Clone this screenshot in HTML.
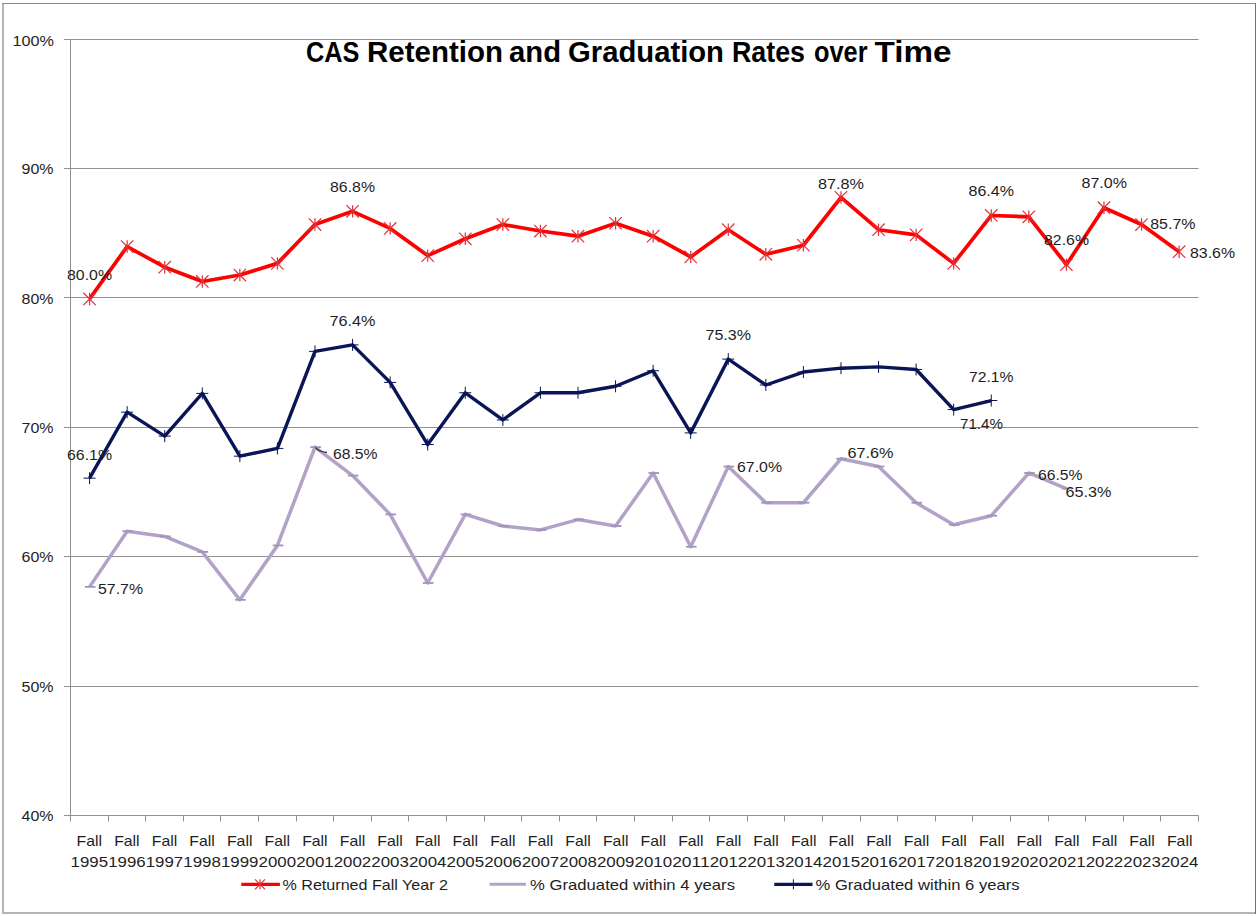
<!DOCTYPE html><html><head><meta charset="utf-8"><style>html,body{margin:0;padding:0;background:#fff;width:1256px;height:916px;overflow:hidden;}svg{display:block;}text{font-family:"Liberation Sans",sans-serif;}</style></head><body>
<svg width="1256" height="916" viewBox="0 0 1256 916">
<rect x="0" y="0" width="1256" height="916" fill="#fff"/>
<rect x="2" y="3" width="2" height="911" fill="#B4B4B4"/>
<rect x="2" y="912" width="1254" height="2" fill="#B4B4B4"/>
<rect x="2" y="3" width="1254" height="1" fill="#8C8C8C"/>
<rect x="1255" y="3" width="1" height="911" fill="#727272"/>
<g stroke="#909090" stroke-width="1">
<line x1="64" y1="39.50" x2="1198.5" y2="39.50"/>
<line x1="64" y1="168.50" x2="1198.5" y2="168.50"/>
<line x1="64" y1="297.50" x2="1198.5" y2="297.50"/>
<line x1="64" y1="427.50" x2="1198.5" y2="427.50"/>
<line x1="64" y1="556.50" x2="1198.5" y2="556.50"/>
<line x1="64" y1="686.50" x2="1198.5" y2="686.50"/>
<line x1="64" y1="815.50" x2="1198.5" y2="815.50"/>
<line x1="70.5" y1="39" x2="70.5" y2="816"/>
<line x1="70.50" y1="815.5" x2="70.50" y2="821.5"/>
<line x1="108.50" y1="815.5" x2="108.50" y2="821.5"/>
<line x1="145.50" y1="815.5" x2="145.50" y2="821.5"/>
<line x1="183.50" y1="815.5" x2="183.50" y2="821.5"/>
<line x1="220.50" y1="815.5" x2="220.50" y2="821.5"/>
<line x1="258.50" y1="815.5" x2="258.50" y2="821.5"/>
<line x1="296.50" y1="815.5" x2="296.50" y2="821.5"/>
<line x1="333.50" y1="815.5" x2="333.50" y2="821.5"/>
<line x1="371.50" y1="815.5" x2="371.50" y2="821.5"/>
<line x1="408.50" y1="815.5" x2="408.50" y2="821.5"/>
<line x1="446.50" y1="815.5" x2="446.50" y2="821.5"/>
<line x1="484.50" y1="815.5" x2="484.50" y2="821.5"/>
<line x1="521.50" y1="815.5" x2="521.50" y2="821.5"/>
<line x1="559.50" y1="815.5" x2="559.50" y2="821.5"/>
<line x1="596.50" y1="815.5" x2="596.50" y2="821.5"/>
<line x1="634.50" y1="815.5" x2="634.50" y2="821.5"/>
<line x1="672.50" y1="815.5" x2="672.50" y2="821.5"/>
<line x1="709.50" y1="815.5" x2="709.50" y2="821.5"/>
<line x1="747.50" y1="815.5" x2="747.50" y2="821.5"/>
<line x1="784.50" y1="815.5" x2="784.50" y2="821.5"/>
<line x1="822.50" y1="815.5" x2="822.50" y2="821.5"/>
<line x1="860.50" y1="815.5" x2="860.50" y2="821.5"/>
<line x1="897.50" y1="815.5" x2="897.50" y2="821.5"/>
<line x1="935.50" y1="815.5" x2="935.50" y2="821.5"/>
<line x1="972.50" y1="815.5" x2="972.50" y2="821.5"/>
<line x1="1010.50" y1="815.5" x2="1010.50" y2="821.5"/>
<line x1="1048.50" y1="815.5" x2="1048.50" y2="821.5"/>
<line x1="1085.50" y1="815.5" x2="1085.50" y2="821.5"/>
<line x1="1123.50" y1="815.5" x2="1123.50" y2="821.5"/>
<line x1="1160.50" y1="815.5" x2="1160.50" y2="821.5"/>
<line x1="1198.50" y1="815.5" x2="1198.50" y2="821.5"/>
</g>
<g font-size="15" fill="#1E1E1E" stroke="#1E1E1E" stroke-width="0.0">
<text x="12.50" y="45.90" textLength="41.5" lengthAdjust="spacingAndGlyphs">100%</text>
<text x="21.60" y="174.10" textLength="32" lengthAdjust="spacingAndGlyphs">90%</text>
<text x="21.60" y="303.50" textLength="32" lengthAdjust="spacingAndGlyphs">80%</text>
<text x="21.60" y="432.90" textLength="32" lengthAdjust="spacingAndGlyphs">70%</text>
<text x="21.60" y="562.30" textLength="32" lengthAdjust="spacingAndGlyphs">60%</text>
<text x="21.60" y="691.70" textLength="32" lengthAdjust="spacingAndGlyphs">50%</text>
<text x="21.60" y="821.00" textLength="32" lengthAdjust="spacingAndGlyphs">40%</text>
<text x="89.30" y="846.00" text-anchor="middle" textLength="25.5" lengthAdjust="spacingAndGlyphs">Fall</text>
<text x="89.30" y="867.00" text-anchor="middle" textLength="37.5" lengthAdjust="spacingAndGlyphs">1995</text>
<text x="126.90" y="846.00" text-anchor="middle" textLength="25.5" lengthAdjust="spacingAndGlyphs">Fall</text>
<text x="126.90" y="867.00" text-anchor="middle" textLength="37.5" lengthAdjust="spacingAndGlyphs">1996</text>
<text x="164.50" y="846.00" text-anchor="middle" textLength="25.5" lengthAdjust="spacingAndGlyphs">Fall</text>
<text x="164.50" y="867.00" text-anchor="middle" textLength="37.5" lengthAdjust="spacingAndGlyphs">1997</text>
<text x="202.10" y="846.00" text-anchor="middle" textLength="25.5" lengthAdjust="spacingAndGlyphs">Fall</text>
<text x="202.10" y="867.00" text-anchor="middle" textLength="37.5" lengthAdjust="spacingAndGlyphs">1998</text>
<text x="239.70" y="846.00" text-anchor="middle" textLength="25.5" lengthAdjust="spacingAndGlyphs">Fall</text>
<text x="239.70" y="867.00" text-anchor="middle" textLength="37.5" lengthAdjust="spacingAndGlyphs">1999</text>
<text x="277.30" y="846.00" text-anchor="middle" textLength="25.5" lengthAdjust="spacingAndGlyphs">Fall</text>
<text x="277.30" y="867.00" text-anchor="middle" textLength="37.5" lengthAdjust="spacingAndGlyphs">2000</text>
<text x="314.90" y="846.00" text-anchor="middle" textLength="25.5" lengthAdjust="spacingAndGlyphs">Fall</text>
<text x="314.90" y="867.00" text-anchor="middle" textLength="37.5" lengthAdjust="spacingAndGlyphs">2001</text>
<text x="352.50" y="846.00" text-anchor="middle" textLength="25.5" lengthAdjust="spacingAndGlyphs">Fall</text>
<text x="352.50" y="867.00" text-anchor="middle" textLength="37.5" lengthAdjust="spacingAndGlyphs">2002</text>
<text x="390.10" y="846.00" text-anchor="middle" textLength="25.5" lengthAdjust="spacingAndGlyphs">Fall</text>
<text x="390.10" y="867.00" text-anchor="middle" textLength="37.5" lengthAdjust="spacingAndGlyphs">2003</text>
<text x="427.70" y="846.00" text-anchor="middle" textLength="25.5" lengthAdjust="spacingAndGlyphs">Fall</text>
<text x="427.70" y="867.00" text-anchor="middle" textLength="37.5" lengthAdjust="spacingAndGlyphs">2004</text>
<text x="465.30" y="846.00" text-anchor="middle" textLength="25.5" lengthAdjust="spacingAndGlyphs">Fall</text>
<text x="465.30" y="867.00" text-anchor="middle" textLength="37.5" lengthAdjust="spacingAndGlyphs">2005</text>
<text x="502.90" y="846.00" text-anchor="middle" textLength="25.5" lengthAdjust="spacingAndGlyphs">Fall</text>
<text x="502.90" y="867.00" text-anchor="middle" textLength="37.5" lengthAdjust="spacingAndGlyphs">2006</text>
<text x="540.50" y="846.00" text-anchor="middle" textLength="25.5" lengthAdjust="spacingAndGlyphs">Fall</text>
<text x="540.50" y="867.00" text-anchor="middle" textLength="37.5" lengthAdjust="spacingAndGlyphs">2007</text>
<text x="578.10" y="846.00" text-anchor="middle" textLength="25.5" lengthAdjust="spacingAndGlyphs">Fall</text>
<text x="578.10" y="867.00" text-anchor="middle" textLength="37.5" lengthAdjust="spacingAndGlyphs">2008</text>
<text x="615.70" y="846.00" text-anchor="middle" textLength="25.5" lengthAdjust="spacingAndGlyphs">Fall</text>
<text x="615.70" y="867.00" text-anchor="middle" textLength="37.5" lengthAdjust="spacingAndGlyphs">2009</text>
<text x="653.30" y="846.00" text-anchor="middle" textLength="25.5" lengthAdjust="spacingAndGlyphs">Fall</text>
<text x="653.30" y="867.00" text-anchor="middle" textLength="37.5" lengthAdjust="spacingAndGlyphs">2010</text>
<text x="690.90" y="846.00" text-anchor="middle" textLength="25.5" lengthAdjust="spacingAndGlyphs">Fall</text>
<text x="690.90" y="867.00" text-anchor="middle" textLength="37.5" lengthAdjust="spacingAndGlyphs">2011</text>
<text x="728.50" y="846.00" text-anchor="middle" textLength="25.5" lengthAdjust="spacingAndGlyphs">Fall</text>
<text x="728.50" y="867.00" text-anchor="middle" textLength="37.5" lengthAdjust="spacingAndGlyphs">2012</text>
<text x="766.10" y="846.00" text-anchor="middle" textLength="25.5" lengthAdjust="spacingAndGlyphs">Fall</text>
<text x="766.10" y="867.00" text-anchor="middle" textLength="37.5" lengthAdjust="spacingAndGlyphs">2013</text>
<text x="803.70" y="846.00" text-anchor="middle" textLength="25.5" lengthAdjust="spacingAndGlyphs">Fall</text>
<text x="803.70" y="867.00" text-anchor="middle" textLength="37.5" lengthAdjust="spacingAndGlyphs">2014</text>
<text x="841.30" y="846.00" text-anchor="middle" textLength="25.5" lengthAdjust="spacingAndGlyphs">Fall</text>
<text x="841.30" y="867.00" text-anchor="middle" textLength="37.5" lengthAdjust="spacingAndGlyphs">2015</text>
<text x="878.90" y="846.00" text-anchor="middle" textLength="25.5" lengthAdjust="spacingAndGlyphs">Fall</text>
<text x="878.90" y="867.00" text-anchor="middle" textLength="37.5" lengthAdjust="spacingAndGlyphs">2016</text>
<text x="916.50" y="846.00" text-anchor="middle" textLength="25.5" lengthAdjust="spacingAndGlyphs">Fall</text>
<text x="916.50" y="867.00" text-anchor="middle" textLength="37.5" lengthAdjust="spacingAndGlyphs">2017</text>
<text x="954.10" y="846.00" text-anchor="middle" textLength="25.5" lengthAdjust="spacingAndGlyphs">Fall</text>
<text x="954.10" y="867.00" text-anchor="middle" textLength="37.5" lengthAdjust="spacingAndGlyphs">2018</text>
<text x="991.70" y="846.00" text-anchor="middle" textLength="25.5" lengthAdjust="spacingAndGlyphs">Fall</text>
<text x="991.70" y="867.00" text-anchor="middle" textLength="37.5" lengthAdjust="spacingAndGlyphs">2019</text>
<text x="1029.30" y="846.00" text-anchor="middle" textLength="25.5" lengthAdjust="spacingAndGlyphs">Fall</text>
<text x="1029.30" y="867.00" text-anchor="middle" textLength="37.5" lengthAdjust="spacingAndGlyphs">2020</text>
<text x="1066.90" y="846.00" text-anchor="middle" textLength="25.5" lengthAdjust="spacingAndGlyphs">Fall</text>
<text x="1066.90" y="867.00" text-anchor="middle" textLength="37.5" lengthAdjust="spacingAndGlyphs">2021</text>
<text x="1104.50" y="846.00" text-anchor="middle" textLength="25.5" lengthAdjust="spacingAndGlyphs">Fall</text>
<text x="1104.50" y="867.00" text-anchor="middle" textLength="37.5" lengthAdjust="spacingAndGlyphs">2022</text>
<text x="1142.10" y="846.00" text-anchor="middle" textLength="25.5" lengthAdjust="spacingAndGlyphs">Fall</text>
<text x="1142.10" y="867.00" text-anchor="middle" textLength="37.5" lengthAdjust="spacingAndGlyphs">2023</text>
<text x="1179.70" y="846.00" text-anchor="middle" textLength="25.5" lengthAdjust="spacingAndGlyphs">Fall</text>
<text x="1179.70" y="867.00" text-anchor="middle" textLength="37.5" lengthAdjust="spacingAndGlyphs">2024</text>
</g>
<text x="306.00" y="61.9" font-size="28.6" font-weight="bold" fill="#000" textLength="53.50" lengthAdjust="spacingAndGlyphs">CAS</text>
<text x="367.00" y="61.9" font-size="28.6" font-weight="bold" fill="#000" textLength="136.00" lengthAdjust="spacingAndGlyphs">Retention</text>
<text x="509.00" y="61.9" font-size="28.6" font-weight="bold" fill="#000" textLength="52.00" lengthAdjust="spacingAndGlyphs">and</text>
<text x="568.00" y="61.9" font-size="28.6" font-weight="bold" fill="#000" textLength="156.00" lengthAdjust="spacingAndGlyphs">Graduation</text>
<text x="732.00" y="61.9" font-size="28.6" font-weight="bold" fill="#000" textLength="73.00" lengthAdjust="spacingAndGlyphs">Rates</text>
<text x="814.00" y="61.9" font-size="28.6" font-weight="bold" fill="#000" textLength="53.50" lengthAdjust="spacingAndGlyphs">over</text>
<text x="874.50" y="61.9" font-size="28.6" font-weight="bold" fill="#000" textLength="77.00" lengthAdjust="spacingAndGlyphs">Time</text>
<polyline points="89.58,586.86 127.15,531.22 164.72,536.40 202.29,551.92 239.86,599.80 277.43,545.45 315.00,447.11 352.57,475.58 390.14,514.40 427.71,582.98 465.28,514.40 502.85,526.04 540.42,529.93 577.99,519.57 615.56,526.04 653.13,472.99 690.70,546.75 728.27,466.52 765.84,502.75 803.41,502.75 840.98,458.76 878.55,466.52 916.12,502.75 953.69,524.75 991.26,515.69 1028.83,472.99 1066.40,488.52" fill="none" stroke="#B3A2C7" stroke-width="3.5" stroke-linejoin="round"/>
<path d="M84.88 586.86L95.48 586.86" stroke="#9F94BA" stroke-width="1.8" fill="none"/>
<path d="M122.45 531.22L133.05 531.22" stroke="#9F94BA" stroke-width="1.8" fill="none"/>
<path d="M160.02 536.40L170.62 536.40" stroke="#9F94BA" stroke-width="1.8" fill="none"/>
<path d="M197.59 551.92L208.19 551.92" stroke="#9F94BA" stroke-width="1.8" fill="none"/>
<path d="M235.16 599.80L245.76 599.80" stroke="#9F94BA" stroke-width="1.8" fill="none"/>
<path d="M272.73 545.45L283.33 545.45" stroke="#9F94BA" stroke-width="1.8" fill="none"/>
<path d="M310.30 447.11L320.90 447.11" stroke="#9F94BA" stroke-width="1.8" fill="none"/>
<path d="M347.87 475.58L358.47 475.58" stroke="#9F94BA" stroke-width="1.8" fill="none"/>
<path d="M385.44 514.40L396.04 514.40" stroke="#9F94BA" stroke-width="1.8" fill="none"/>
<path d="M423.01 582.98L433.61 582.98" stroke="#9F94BA" stroke-width="1.8" fill="none"/>
<path d="M460.58 514.40L471.18 514.40" stroke="#9F94BA" stroke-width="1.8" fill="none"/>
<path d="M498.15 526.04L508.75 526.04" stroke="#9F94BA" stroke-width="1.8" fill="none"/>
<path d="M535.72 529.93L546.32 529.93" stroke="#9F94BA" stroke-width="1.8" fill="none"/>
<path d="M573.29 519.57L583.89 519.57" stroke="#9F94BA" stroke-width="1.8" fill="none"/>
<path d="M610.86 526.04L621.46 526.04" stroke="#9F94BA" stroke-width="1.8" fill="none"/>
<path d="M648.43 472.99L659.03 472.99" stroke="#9F94BA" stroke-width="1.8" fill="none"/>
<path d="M686.00 546.75L696.60 546.75" stroke="#9F94BA" stroke-width="1.8" fill="none"/>
<path d="M723.57 466.52L734.17 466.52" stroke="#9F94BA" stroke-width="1.8" fill="none"/>
<path d="M761.14 502.75L771.74 502.75" stroke="#9F94BA" stroke-width="1.8" fill="none"/>
<path d="M798.71 502.75L809.31 502.75" stroke="#9F94BA" stroke-width="1.8" fill="none"/>
<path d="M836.28 458.76L846.88 458.76" stroke="#9F94BA" stroke-width="1.8" fill="none"/>
<path d="M873.85 466.52L884.45 466.52" stroke="#9F94BA" stroke-width="1.8" fill="none"/>
<path d="M911.42 502.75L922.02 502.75" stroke="#9F94BA" stroke-width="1.8" fill="none"/>
<path d="M948.99 524.75L959.59 524.75" stroke="#9F94BA" stroke-width="1.8" fill="none"/>
<path d="M986.56 515.69L997.16 515.69" stroke="#9F94BA" stroke-width="1.8" fill="none"/>
<path d="M1024.13 472.99L1034.73 472.99" stroke="#9F94BA" stroke-width="1.8" fill="none"/>
<path d="M1061.70 488.52L1072.30 488.52" stroke="#9F94BA" stroke-width="1.8" fill="none"/>
<polyline points="89.58,478.17 127.15,412.17 164.72,436.11 202.29,393.41 239.86,456.17 277.43,448.40 315.00,351.35 352.57,344.88 390.14,382.41 427.71,444.52 465.28,392.76 502.85,419.94 540.42,392.76 577.99,392.76 615.56,386.29 653.13,370.76 690.70,432.88 728.27,359.12 765.84,385.00 803.41,372.06 840.98,368.18 878.55,366.88 916.12,369.47 953.69,409.58 991.26,400.53" fill="none" stroke="#0A1556" stroke-width="3.4" stroke-linejoin="round"/>
<path d="M83.58 478.17L95.58 478.17M89.58 472.17L89.58 484.17" stroke="#0A1556" stroke-width="1" fill="none"/>
<path d="M121.15 412.17L133.15 412.17M127.15 406.17L127.15 418.17" stroke="#0A1556" stroke-width="1" fill="none"/>
<path d="M158.72 436.11L170.72 436.11M164.72 430.11L164.72 442.11" stroke="#0A1556" stroke-width="1" fill="none"/>
<path d="M196.29 393.41L208.29 393.41M202.29 387.41L202.29 399.41" stroke="#0A1556" stroke-width="1" fill="none"/>
<path d="M233.86 456.17L245.86 456.17M239.86 450.17L239.86 462.17" stroke="#0A1556" stroke-width="1" fill="none"/>
<path d="M271.43 448.40L283.43 448.40M277.43 442.40L277.43 454.40" stroke="#0A1556" stroke-width="1" fill="none"/>
<path d="M309.00 351.35L321.00 351.35M315.00 345.35L315.00 357.35" stroke="#0A1556" stroke-width="1" fill="none"/>
<path d="M346.57 344.88L358.57 344.88M352.57 338.88L352.57 350.88" stroke="#0A1556" stroke-width="1" fill="none"/>
<path d="M384.14 382.41L396.14 382.41M390.14 376.41L390.14 388.41" stroke="#0A1556" stroke-width="1" fill="none"/>
<path d="M421.71 444.52L433.71 444.52M427.71 438.52L427.71 450.52" stroke="#0A1556" stroke-width="1" fill="none"/>
<path d="M459.28 392.76L471.28 392.76M465.28 386.76L465.28 398.76" stroke="#0A1556" stroke-width="1" fill="none"/>
<path d="M496.85 419.94L508.85 419.94M502.85 413.94L502.85 425.94" stroke="#0A1556" stroke-width="1" fill="none"/>
<path d="M534.42 392.76L546.42 392.76M540.42 386.76L540.42 398.76" stroke="#0A1556" stroke-width="1" fill="none"/>
<path d="M571.99 392.76L583.99 392.76M577.99 386.76L577.99 398.76" stroke="#0A1556" stroke-width="1" fill="none"/>
<path d="M609.56 386.29L621.56 386.29M615.56 380.29L615.56 392.29" stroke="#0A1556" stroke-width="1" fill="none"/>
<path d="M647.13 370.76L659.13 370.76M653.13 364.76L653.13 376.76" stroke="#0A1556" stroke-width="1" fill="none"/>
<path d="M684.70 432.88L696.70 432.88M690.70 426.88L690.70 438.88" stroke="#0A1556" stroke-width="1" fill="none"/>
<path d="M722.27 359.12L734.27 359.12M728.27 353.12L728.27 365.12" stroke="#0A1556" stroke-width="1" fill="none"/>
<path d="M759.84 385.00L771.84 385.00M765.84 379.00L765.84 391.00" stroke="#0A1556" stroke-width="1" fill="none"/>
<path d="M797.41 372.06L809.41 372.06M803.41 366.06L803.41 378.06" stroke="#0A1556" stroke-width="1" fill="none"/>
<path d="M834.98 368.18L846.98 368.18M840.98 362.18L840.98 374.18" stroke="#0A1556" stroke-width="1" fill="none"/>
<path d="M872.55 366.88L884.55 366.88M878.55 360.88L878.55 372.88" stroke="#0A1556" stroke-width="1" fill="none"/>
<path d="M910.12 369.47L922.12 369.47M916.12 363.47L916.12 375.47" stroke="#0A1556" stroke-width="1" fill="none"/>
<path d="M947.69 409.58L959.69 409.58M953.69 403.58L953.69 415.58" stroke="#0A1556" stroke-width="1" fill="none"/>
<path d="M985.26 400.53L997.26 400.53M991.26 394.53L991.26 406.53" stroke="#0A1556" stroke-width="1" fill="none"/>
<polyline points="89.58,298.95 127.15,246.54 164.72,267.24 202.29,281.48 239.86,275.01 277.43,263.36 315.00,224.54 352.57,211.34 390.14,228.42 427.71,255.60 465.28,238.78 502.85,224.54 540.42,231.01 577.99,236.19 615.56,223.25 653.13,236.19 690.70,256.89 728.27,229.72 765.84,254.30 803.41,245.25 840.98,197.37 878.55,229.72 916.12,234.89 953.69,263.36 991.26,215.48 1028.83,216.78 1066.40,264.66 1103.97,207.72 1141.54,224.54 1179.11,251.72" fill="none" stroke="#FF0000" stroke-width="3.7" stroke-linejoin="round"/>
<path d="M83.38 292.75L95.78 305.15M83.38 305.15L95.78 292.75M89.58 292.75L89.58 305.15" stroke="#E03038" stroke-width="1.2" fill="none"/>
<path d="M120.95 240.34L133.35 252.74M120.95 252.74L133.35 240.34M127.15 240.34L127.15 252.74" stroke="#E03038" stroke-width="1.2" fill="none"/>
<path d="M158.52 261.04L170.92 273.44M158.52 273.44L170.92 261.04M164.72 261.04L164.72 273.44" stroke="#E03038" stroke-width="1.2" fill="none"/>
<path d="M196.09 275.28L208.49 287.68M196.09 287.68L208.49 275.28M202.29 275.28L202.29 287.68" stroke="#E03038" stroke-width="1.2" fill="none"/>
<path d="M233.66 268.81L246.06 281.21M233.66 281.21L246.06 268.81M239.86 268.81L239.86 281.21" stroke="#E03038" stroke-width="1.2" fill="none"/>
<path d="M271.23 257.16L283.63 269.56M271.23 269.56L283.63 257.16M277.43 257.16L277.43 269.56" stroke="#E03038" stroke-width="1.2" fill="none"/>
<path d="M308.80 218.34L321.20 230.74M308.80 230.74L321.20 218.34M315.00 218.34L315.00 230.74" stroke="#E03038" stroke-width="1.2" fill="none"/>
<path d="M346.37 205.14L358.77 217.54M346.37 217.54L358.77 205.14M352.57 205.14L352.57 217.54" stroke="#E03038" stroke-width="1.2" fill="none"/>
<path d="M383.94 222.22L396.34 234.62M383.94 234.62L396.34 222.22M390.14 222.22L390.14 234.62" stroke="#E03038" stroke-width="1.2" fill="none"/>
<path d="M421.51 249.40L433.91 261.80M421.51 261.80L433.91 249.40M427.71 249.40L427.71 261.80" stroke="#E03038" stroke-width="1.2" fill="none"/>
<path d="M459.08 232.58L471.48 244.98M459.08 244.98L471.48 232.58M465.28 232.58L465.28 244.98" stroke="#E03038" stroke-width="1.2" fill="none"/>
<path d="M496.65 218.34L509.05 230.74M496.65 230.74L509.05 218.34M502.85 218.34L502.85 230.74" stroke="#E03038" stroke-width="1.2" fill="none"/>
<path d="M534.22 224.81L546.62 237.21M534.22 237.21L546.62 224.81M540.42 224.81L540.42 237.21" stroke="#E03038" stroke-width="1.2" fill="none"/>
<path d="M571.79 229.99L584.19 242.39M571.79 242.39L584.19 229.99M577.99 229.99L577.99 242.39" stroke="#E03038" stroke-width="1.2" fill="none"/>
<path d="M609.36 217.05L621.76 229.45M609.36 229.45L621.76 217.05M615.56 217.05L615.56 229.45" stroke="#E03038" stroke-width="1.2" fill="none"/>
<path d="M646.93 229.99L659.33 242.39M646.93 242.39L659.33 229.99M653.13 229.99L653.13 242.39" stroke="#E03038" stroke-width="1.2" fill="none"/>
<path d="M684.50 250.69L696.90 263.09M684.50 263.09L696.90 250.69M690.70 250.69L690.70 263.09" stroke="#E03038" stroke-width="1.2" fill="none"/>
<path d="M722.07 223.52L734.47 235.92M722.07 235.92L734.47 223.52M728.27 223.52L728.27 235.92" stroke="#E03038" stroke-width="1.2" fill="none"/>
<path d="M759.64 248.10L772.04 260.50M759.64 260.50L772.04 248.10M765.84 248.10L765.84 260.50" stroke="#E03038" stroke-width="1.2" fill="none"/>
<path d="M797.21 239.05L809.61 251.45M797.21 251.45L809.61 239.05M803.41 239.05L803.41 251.45" stroke="#E03038" stroke-width="1.2" fill="none"/>
<path d="M834.78 191.17L847.18 203.57M834.78 203.57L847.18 191.17M840.98 191.17L840.98 203.57" stroke="#E03038" stroke-width="1.2" fill="none"/>
<path d="M872.35 223.52L884.75 235.92M872.35 235.92L884.75 223.52M878.55 223.52L878.55 235.92" stroke="#E03038" stroke-width="1.2" fill="none"/>
<path d="M909.92 228.69L922.32 241.09M909.92 241.09L922.32 228.69M916.12 228.69L916.12 241.09" stroke="#E03038" stroke-width="1.2" fill="none"/>
<path d="M947.49 257.16L959.89 269.56M947.49 269.56L959.89 257.16M953.69 257.16L953.69 269.56" stroke="#E03038" stroke-width="1.2" fill="none"/>
<path d="M985.06 209.28L997.46 221.68M985.06 221.68L997.46 209.28M991.26 209.28L991.26 221.68" stroke="#E03038" stroke-width="1.2" fill="none"/>
<path d="M1022.63 210.58L1035.03 222.98M1022.63 222.98L1035.03 210.58M1028.83 210.58L1028.83 222.98" stroke="#E03038" stroke-width="1.2" fill="none"/>
<path d="M1060.20 258.46L1072.60 270.86M1060.20 270.86L1072.60 258.46M1066.40 258.46L1066.40 270.86" stroke="#E03038" stroke-width="1.2" fill="none"/>
<path d="M1097.77 201.52L1110.17 213.92M1097.77 213.92L1110.17 201.52M1103.97 201.52L1103.97 213.92" stroke="#E03038" stroke-width="1.2" fill="none"/>
<path d="M1135.34 218.34L1147.74 230.74M1135.34 230.74L1147.74 218.34M1141.54 218.34L1141.54 230.74" stroke="#E03038" stroke-width="1.2" fill="none"/>
<path d="M1172.91 245.52L1185.31 257.92M1172.91 257.92L1185.31 245.52M1179.11 245.52L1179.11 257.92" stroke="#E03038" stroke-width="1.2" fill="none"/>
<g font-size="15" fill="#1E1E1E" stroke="#1E1E1E" stroke-width="0.0">
<text x="67.00" y="279.70" textLength="45.00" lengthAdjust="spacingAndGlyphs">80.0%</text>
<text x="330.00" y="191.70" textLength="45.00" lengthAdjust="spacingAndGlyphs">86.8%</text>
<text x="818.00" y="189.10" textLength="46.00" lengthAdjust="spacingAndGlyphs">87.8%</text>
<text x="968.50" y="196.30" textLength="45.50" lengthAdjust="spacingAndGlyphs">86.4%</text>
<text x="1044.00" y="245.00" textLength="45.00" lengthAdjust="spacingAndGlyphs">82.6%</text>
<text x="1081.50" y="188.20" textLength="45.50" lengthAdjust="spacingAndGlyphs">87.0%</text>
<text x="1150.25" y="228.50" textLength="45.25" lengthAdjust="spacingAndGlyphs">85.7%</text>
<text x="1190.00" y="258.00" textLength="45.00" lengthAdjust="spacingAndGlyphs">83.6%</text>
<text x="67.00" y="459.80" textLength="45.00" lengthAdjust="spacingAndGlyphs">66.1%</text>
<text x="329.50" y="325.80" textLength="46.00" lengthAdjust="spacingAndGlyphs">76.4%</text>
<text x="705.50" y="339.80" textLength="45.50" lengthAdjust="spacingAndGlyphs">75.3%</text>
<text x="969.00" y="381.50" textLength="44.50" lengthAdjust="spacingAndGlyphs">72.1%</text>
<text x="960.00" y="428.70" textLength="43.00" lengthAdjust="spacingAndGlyphs">71.4%</text>
<text x="98.00" y="593.80" textLength="45.00" lengthAdjust="spacingAndGlyphs">57.7%</text>
<text x="333.00" y="458.60" textLength="44.50" lengthAdjust="spacingAndGlyphs">68.5%</text>
<text x="737.00" y="471.80" textLength="45.00" lengthAdjust="spacingAndGlyphs">67.0%</text>
<text x="847.50" y="457.50" textLength="46.00" lengthAdjust="spacingAndGlyphs">67.6%</text>
<text x="1038.00" y="479.90" textLength="44.50" lengthAdjust="spacingAndGlyphs">66.5%</text>
<text x="1065.50" y="496.70" textLength="46.00" lengthAdjust="spacingAndGlyphs">65.3%</text>
</g>
<path d="M315.5 447.5 Q319 452 327 452.3" stroke="#111" stroke-width="1.2" fill="none"/>
<line x1="241.3" y1="884.3" x2="279.9" y2="884.3" stroke="#FF0000" stroke-width="3.2"/>
<path d="M255.00 879.30L265.00 889.30M255.00 889.30L265.00 879.30M260.00 879.30L260.00 889.30" stroke="#E03038" stroke-width="1.2" fill="none"/>
<line x1="489.6" y1="884.3" x2="525.9" y2="884.3" stroke="#B3A2C7" stroke-width="3"/>
<line x1="774.3" y1="884.3" x2="812.5" y2="884.3" stroke="#0A1556" stroke-width="3.2"/>
<path d="M788.40 884.30L798.40 884.30M793.40 879.30L793.40 889.30" stroke="#0A1556" stroke-width="1" fill="none"/>
<g font-size="15" fill="#1E1E1E" stroke="#1E1E1E" stroke-width="0.0">
<text x="282.50" y="889.70" textLength="165.5" lengthAdjust="spacingAndGlyphs">% Returned Fall Year 2</text>
<text x="530.00" y="889.70" textLength="205" lengthAdjust="spacingAndGlyphs">% Graduated within 4 years</text>
<text x="815.50" y="889.70" textLength="204" lengthAdjust="spacingAndGlyphs">% Graduated within 6 years</text>
</g>
</svg></body></html>
